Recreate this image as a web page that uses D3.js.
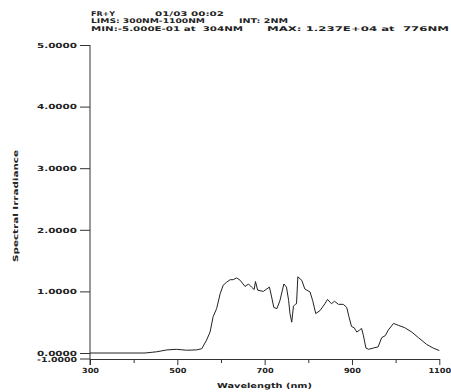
<!DOCTYPE html>
<html>
<head>
<meta charset="utf-8">
<script src="https://cdn.jsdelivr.net/npm/d3@7"></script>
<style>
  body { margin: 0; background: #fff; }
  text { font-family: "DejaVu Sans", sans-serif; font-weight: bold; fill: #222; }
</style>
</head>
<body>
<main></main>
<script>
// wavelength (nm) and spectral irradiance (x1e4)
const wavelengths = [300, 426, 453, 476, 498, 521, 544, 556, 567, 575, 582, 590, 598, 605, 613, 621, 628, 636, 644, 655, 663, 670, 676, 679, 684, 697, 705, 711, 716, 721, 728, 735, 744, 750, 755, 758, 762, 766, 770, 773, 776, 785, 792, 804, 810, 817, 827, 838, 844, 853, 860, 869, 880, 888, 893, 899, 905, 911, 917, 922, 926, 932, 938, 949, 960, 968, 976, 983, 995, 1006, 1021, 1037, 1052, 1071, 1086, 1100];
const irradiance = [0, 0, 0.02, 0.05, 0.06, 0.045, 0.05, 0.07, 0.21, 0.34, 0.59, 0.72, 0.96, 1.10, 1.15, 1.19, 1.19, 1.22, 1.18, 1.08, 1.12, 1.07, 1.03, 1.16, 1.02, 1.00, 1.04, 1.07, 0.91, 0.74, 0.72, 0.85, 1.12, 1.07, 0.85, 0.64, 0.50, 0.76, 0.79, 0.80, 1.237, 1.18, 1.04, 0.99, 0.85, 0.64, 0.69, 0.80, 0.87, 0.80, 0.84, 0.79, 0.79, 0.74, 0.59, 0.43, 0.41, 0.34, 0.37, 0.40, 0.29, 0.08, 0.06, 0.08, 0.10, 0.25, 0.28, 0.37, 0.48, 0.45, 0.41, 0.34, 0.25, 0.14, 0.08, 0.04];
const yTicks = [0, 1, 2, 3, 4, 5];
const xMajor = [300, 500, 700, 900, 1100];
const xMinor = [400, 600, 800, 1000];
const header = [
    ['FR+Y', '01/03 00:02'],
    ['LIMS: 300NM-1100NM', 'INT: 2NM'],
    ['MIN:-5.000E-01 at  304NM', 'MAX: 1.237E+04 at  776NM']
];

const w = 451, h = 392;
const svg = d3.select('main').append('svg').attr('width', w).attr('height', h);
const x = d3.scaleLinear().domain([300, 1100]).range([90, 439.3]);
const y = d3.scaleLinear().domain([0, 5]).range([353, 45]);
const axisY = 359;

// header block
const hx = [[91, 155], [91, 239], [91, 267]];
const hw = [[24, 69], [114, 49], [152, 182]];
header.forEach((row, i) => {
    row.forEach((t, j) => {
        svg.append('text')
            .attr('x', hx[i][j]).attr('y', 15.5 + i * 7.5)
            .attr('font-size', 6.4)
            .attr('textLength', hw[i][j])
            .attr('lengthAdjust', 'spacingAndGlyphs')
            .style('white-space', 'pre')
            .text(t);
    });
});

// y axis
const gy = svg.append('g').attr('transform', 'translate(90,0)')
    .call(d3.axisLeft(y).tickValues(yTicks).tickSize(10).tickSizeOuter(0).tickFormat(d3.format('.4f')));
gy.select('.domain').remove();
gy.selectAll('line').attr('stroke', '#333');
gy.selectAll('text')
    .attr('x', -13)
    .attr('font-size', 7)
    .attr('textLength', 40)
    .attr('lengthAdjust', 'spacingAndGlyphs')
    .attr('fill', '#222');
svg.append('line').attr('x1', 90).attr('x2', 90).attr('y1', y(5)).attr('y2', 365).attr('stroke', '#333');
svg.append('line').attr('x1', 80).attr('x2', 90).attr('y1', axisY).attr('y2', axisY).attr('stroke', '#333');
svg.append('text').attr('x', 77).attr('y', axisY + 2.5).attr('text-anchor', 'end')
    .attr('font-size', 7).attr('textLength', 40).attr('lengthAdjust', 'spacingAndGlyphs')
    .text('-1.0000');

// x axis
const gx = svg.append('g').attr('transform', `translate(0,${axisY})`)
    .call(d3.axisBottom(x).tickValues(xMajor).tickSize(6).tickSizeOuter(0).tickFormat(d3.format('d')));
gx.select('.domain').attr('stroke', '#333');
gx.selectAll('line').attr('stroke', '#333');
gx.selectAll('text')
    .attr('y', 9.5)
    .attr('font-size', 7)
    .attr('textLength', d => String(d).length * 5.7)
    .attr('lengthAdjust', 'spacingAndGlyphs')
    .attr('fill', '#222');
const gm = svg.append('g').attr('transform', `translate(0,${axisY})`)
    .call(d3.axisBottom(x).tickValues(xMinor).tickSize(4).tickFormat(''));
gm.select('.domain').remove();
gm.selectAll('line').attr('stroke', '#333');

// titles
svg.append('text').attr('x', 264.5).attr('y', 387.5).attr('text-anchor', 'middle')
    .attr('font-size', 7).attr('textLength', 95).attr('lengthAdjust', 'spacingAndGlyphs')
    .text('Wavelength (nm)');
svg.append('text').attr('transform', 'translate(18,206) rotate(-90)').attr('text-anchor', 'middle')
    .attr('font-size', 7).attr('textLength', 112).attr('lengthAdjust', 'spacingAndGlyphs')
    .text('Spectral Irradiance');

// curve
const pts = wavelengths.map((d, i) => [d, irradiance[i]]);
svg.append('path')
    .datum(pts)
    .attr('fill', 'none')
    .attr('stroke', '#222')
    .attr('stroke-width', 1)
    .attr('d', d3.line().x(d => x(d[0])).y(d => y(d[1])));
</script>
</body>
</html>
